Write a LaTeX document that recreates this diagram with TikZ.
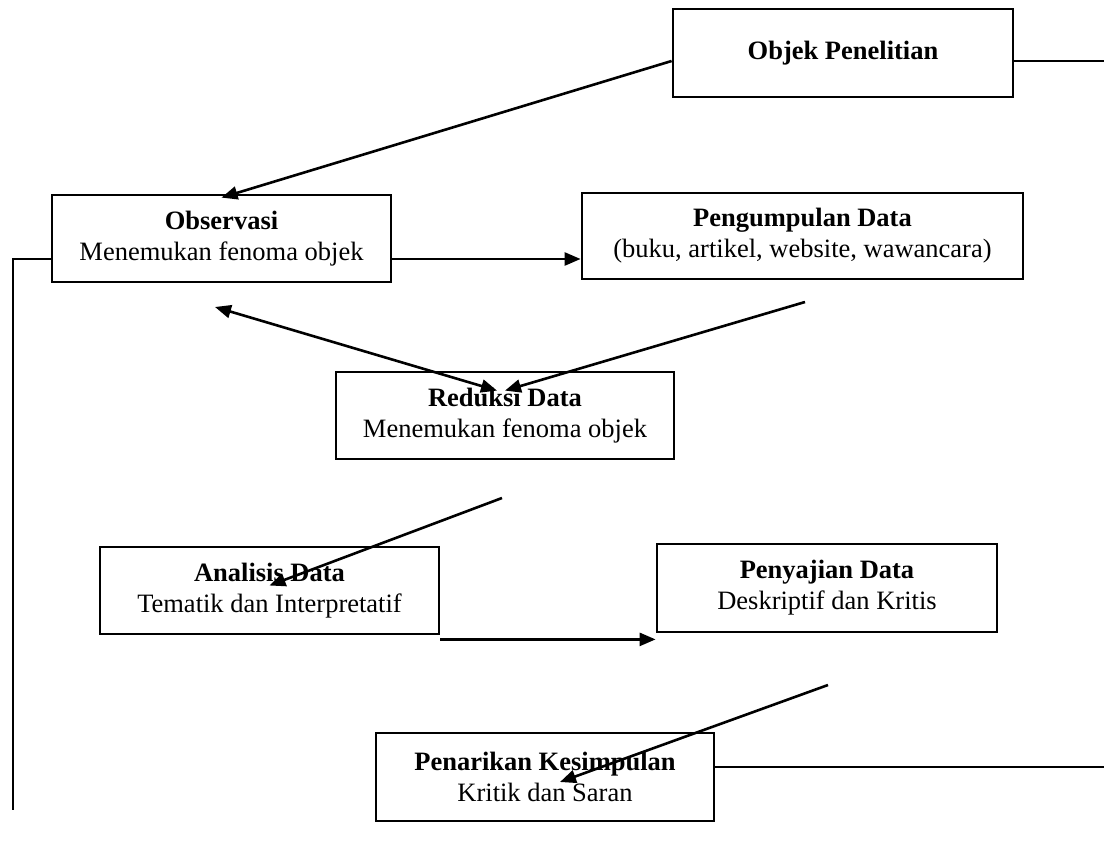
\documentclass[tikz,border=0pt]{standalone}
\usepackage{fontspec}
\setmainfont{Liberation Serif}
\usetikzlibrary{arrows.meta}

\begin{document}
\begin{tikzpicture}[x=1pt, y=-1pt,
		kotak/.style={draw, line width=2.8pt, align=center, inner sep=0pt, minimum height=87pt, font=\fontsize{26.5}{31}\selectfont},
		panah/.style={line width=2.6pt, -{Triangle[length=16pt, width=13pt]}},
		panahdua/.style={line width=2.6pt, {Triangle[length=16pt, width=13pt]}-{Triangle[length=16pt, width=13pt]}},
		tipis/.style={line width=1.4pt}]
		\useasboundingbox (0, 0) rectangle (1104, 854);

		\node[kotak, minimum width=340pt, minimum height=88pt] (objek) at (843, 53) {\textbf{Objek Penelitian}};
		\node[kotak, minimum width=339pt] (obs) at (221.5, 238.5) {\textbf{Observasi}\\Menemukan fenoma objek};
		\node[kotak, minimum width=441pt, minimum height=86pt] (kumpul) at (802.5, 236) {\textbf{Pengumpulan Data}\\(buku, artikel, website, wawancara)};
		\node[kotak, minimum width=338pt] (reduksi) at (505, 415.5) {\textbf{Reduksi Data}\\Menemukan fenoma objek};
		\node[kotak, minimum width=339pt] (analisis) at (269.5, 590.5) {\textbf{Analisis Data}\\Tematik dan Interpretatif};
		\node[kotak, minimum width=340pt, minimum height=88pt] (sajian) at (827, 588) {\textbf{Penyajian Data}\\Deskriptif dan Kritis};
		\node[kotak, minimum width=338pt, minimum height=88pt] (tarik) at (545, 777) {\textbf{Penarikan Kesimpulan}\\Kritik dan Saran};

		\coordinate (k1) at (805, 302);
		\coordinate (o1) at (215, 307);
		\coordinate (r1) at (502, 498);
		\coordinate (s1) at (828, 685);
		\coordinate (kiri) at (13, 810);
		\coordinate (kanan1) at (1104, 61);
		\coordinate (kanan2) at (1104, 767);

		\draw[panah] ([yshift=-8pt]objek.west) -- ([yshift=-4pt]obs.north);
		\draw[panah] ([yshift=-20.5pt]obs.east) -- ([yshift=-20.5pt]obs.east -| kumpul.west);
		\draw[panah] (k1) -- ([xshift=0pt, yshift=-20pt]reduksi.north);
		\draw[panahdua] (o1) -- ([xshift=-8pt, yshift=-20pt]reduksi.north);
		\draw[panah] (r1) -- ([yshift=5pt]analisis.center);
		\draw[panah] ([yshift=-4pt]analisis.south east) -- ([yshift=-4pt]analisis.south east -| sajian.west);
		\draw[panah] (s1) -- ([xshift=15pt, yshift=-5pt]tarik.center);

		% garis tipis ke tepi gambar
		\draw[tipis] ([yshift=-8pt]objek.east) -- (kanan1);
		\draw[tipis] ([yshift=-20.5pt]obs.west) -| (kiri);
		\draw[tipis] ([yshift=10pt]tarik.east) -- (kanan2);
	\end{tikzpicture}
\end{document}
